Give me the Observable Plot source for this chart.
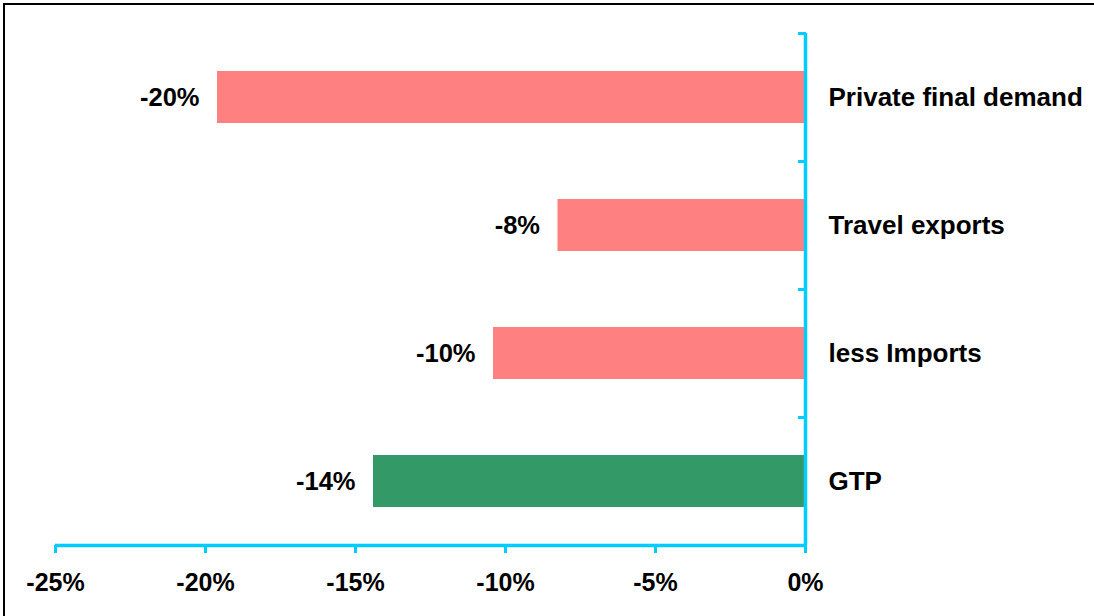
<!DOCTYPE html>
<html>
<head>
<meta charset="utf-8">
<script src="https://cdn.jsdelivr.net/npm/d3@7"></script>
<script src="https://cdn.jsdelivr.net/npm/@observablehq/plot@0.6"></script>
<style>
  html, body { margin: 0; padding: 0; background: #fff; overflow: hidden; }
  #wrap { position: relative; width: 1094px; height: 616px; }
  #border { position: absolute; left: 3px; top: 3px; width: 1200px; height: 700px;
            border: 2.5px solid #000; box-sizing: border-box; pointer-events: none; }
  svg { font-family: "Liberation Sans", Arial, sans-serif; }
</style>
</head>
<body>
<div id="wrap"><div id="chart"></div><div id="border"></div></div>
<script>
const categories = ["Private final demand", "Travel exports", "less Imports", "GTP"];
const values = [-19.6, -8.25, -10.4, -14.4];
const colors = ["#FF8080", "#FF8080", "#FF8080", "#339966"];
const xTicks = [-25, -20, -15, -10, -5, 0];
const yBoundaries = [0, 1, 2, 3, 4];

const data = categories.map((c, i) => ({cat: c, i, value: values[i], color: colors[i]}));
const cyan = "#00CCFF";
const pct = d => `${Math.round(d)}%`;

const chart = Plot.plot({
  width: 1094,
  height: 616,
  marginLeft: 55,
  marginRight: 289,
  marginTop: 33,
  marginBottom: 71,
  style: {fontFamily: "'Liberation Sans', Arial, sans-serif", color: "#000", background: "transparent"},
  x: {domain: [-25, 0]},
  y: {domain: [0, 4], reverse: true},
  marks: [
    Plot.rectX(data, {x1: 0, x2: "value", y1: "i", y2: d => d.i + 1, fill: "color", insetTop: 38, insetBottom: 38}),
    Plot.text(data, {x: "value", y: d => d.i + 0.5, text: d => pct(d.value), textAnchor: "end", dx: -18,
      fontSize: 25.5, fontWeight: "bold", fill: "#000"}),
    Plot.text(data, {x: 0, y: d => d.i + 0.5, text: "cat", textAnchor: "start", dx: 23,
      fontSize: 26, fontWeight: "bold", fill: "#000"}),
    Plot.ruleX([0], {stroke: cyan, strokeWidth: 3.5}),
    Plot.ruleY([4], {stroke: cyan, strokeWidth: 3.5}),
    Plot.axisY({ticks: yBoundaries, anchor: "right", tickSize: 8, dx: -8, tickFormat: () => "",
      stroke: cyan, strokeWidth: 3, label: null}),
    Plot.axisX({ticks: xTicks, anchor: "bottom", tickSize: 8, tickPadding: 20, tickFormat: pct,
      stroke: cyan, strokeWidth: 3, fontSize: 25, fontWeight: "bold", fill: "#000", label: null})
  ]
});
document.getElementById("chart").appendChild(chart);
</script>
</body>
</html>
